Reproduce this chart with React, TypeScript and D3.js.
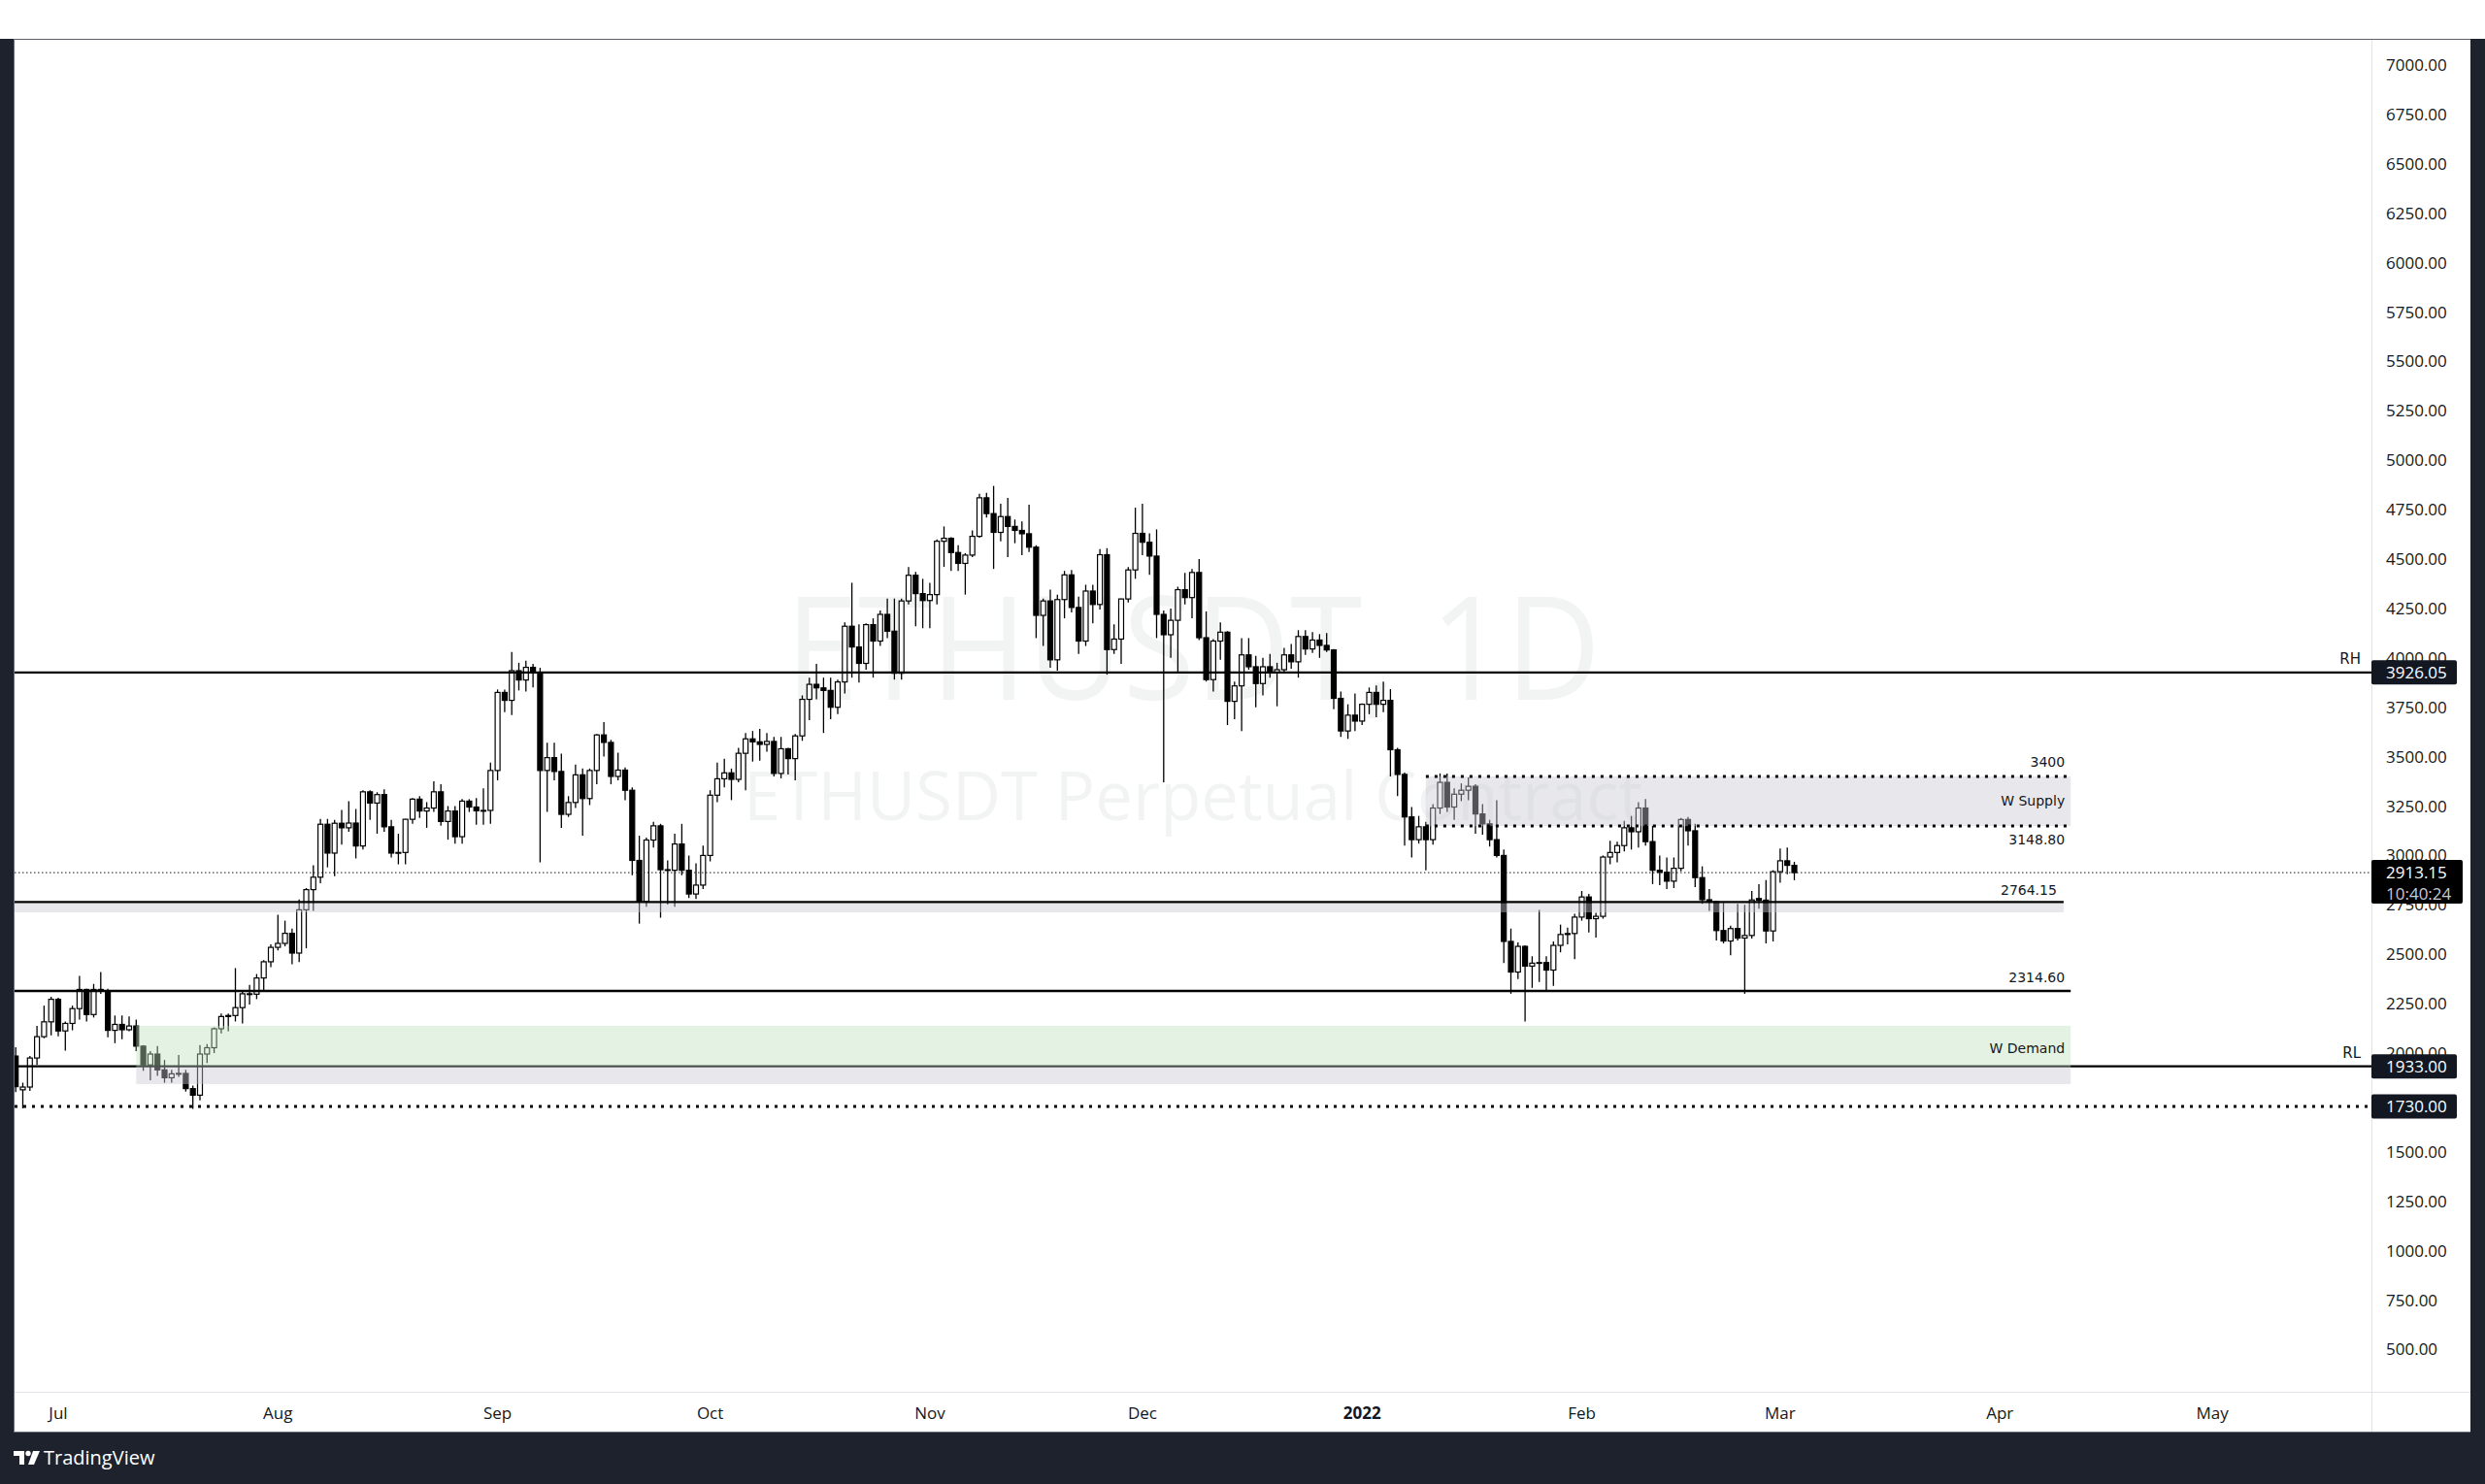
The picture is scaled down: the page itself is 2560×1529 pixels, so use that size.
import React from "react";
import * as d3 from "d3";

// ---------- DATA (daily OHLC, ETHUSDT Perpetual, 1D) ----------
const START = Date.UTC(2021, 5, 25); // first candle: 25 Jun 2021

const jun21 = [
  [1985, 2030, 1802, 1830], [1814, 1850, 1720, 1828], [1828, 1985, 1808, 1975],
  [1975, 2137, 1940, 2083], [2083, 2240, 2075, 2158], [2158, 2285, 2090, 2272],
];
const jul21 = [
  [2272, 2280, 2085, 2112], [2112, 2160, 2012, 2150], [2150, 2240, 2115, 2225], [2225, 2390, 2170, 2322],
  [2322, 2325, 2160, 2195], [2195, 2350, 2180, 2322], [2322, 2410, 2300, 2316], [2316, 2325, 2080, 2115],
  [2115, 2190, 2050, 2145], [2145, 2190, 2070, 2118], [2118, 2186, 2110, 2137], [2137, 2170, 2010, 2035],
  [2035, 2040, 1910, 1940], [1940, 2010, 1862, 1995], [1995, 2035, 1885, 1915], [1915, 1965, 1850, 1875],
  [1875, 1915, 1850, 1895], [1895, 1990, 1880, 1897], [1897, 1915, 1805, 1820], [1820, 1835, 1718, 1787],
  [1787, 2040, 1760, 1995], [1995, 2045, 1950, 2027], [2027, 2130, 2000, 2123], [2123, 2200, 2100, 2185],
  [2185, 2200, 2110, 2190], [2190, 2430, 2160, 2230], [2230, 2315, 2150, 2300], [2300, 2345, 2245, 2298],
  [2298, 2400, 2273, 2380], [2380, 2470, 2310, 2462], [2462, 2550, 2435, 2535],
];
const aug21 = [
  [2535, 2700, 2520, 2555], [2555, 2670, 2540, 2606], [2606, 2630, 2450, 2506], [2506, 2777, 2460, 2725],
  [2725, 2835, 2530, 2827], [2827, 2950, 2720, 2890], [2890, 3185, 2860, 3158], [3158, 3185, 2940, 3012],
  [3012, 3180, 2895, 3163], [3163, 3230, 3055, 3140], [3140, 3275, 3120, 3164], [3164, 3235, 2985, 3048],
  [3048, 3330, 3030, 3322], [3322, 3330, 3180, 3265], [3265, 3320, 3110, 3308], [3308, 3335, 3120, 3145],
  [3145, 3180, 2990, 3012], [3012, 3110, 2955, 3015], [3015, 3185, 2955, 3183], [3183, 3290, 3160, 3285],
  [3285, 3300, 3190, 3225], [3225, 3270, 3140, 3240], [3240, 3375, 3220, 3322], [3322, 3360, 3150, 3172],
  [3172, 3250, 3080, 3225], [3225, 3250, 3060, 3095], [3095, 3285, 3060, 3275], [3275, 3285, 3220, 3245],
  [3245, 3290, 3155, 3226], [3226, 3340, 3155, 3228], [3228, 3470, 3160, 3430],
];
const sep21 = [
  [3430, 3840, 3380, 3825], [3825, 3840, 3725, 3785], [3785, 4030, 3710, 3935], [3935, 3975, 3835, 3888],
  [3888, 3985, 3830, 3952], [3952, 3970, 3850, 3925], [3925, 3950, 2965, 3430], [3430, 3570, 3220, 3495],
  [3495, 3570, 3380, 3425], [3425, 3515, 3140, 3208], [3208, 3300, 3195, 3268], [3268, 3460, 3240, 3408],
  [3408, 3440, 3100, 3288], [3288, 3440, 3255, 3430], [3430, 3615, 3360, 3610], [3610, 3675, 3500, 3572],
  [3572, 3585, 3360, 3400], [3400, 3520, 3380, 3432], [3432, 3445, 3280, 3330], [3330, 3345, 2900, 2975],
  [2975, 3100, 2655, 2767], [2767, 3090, 2740, 3078], [3078, 3170, 3040, 3150], [3150, 3160, 2685, 2928],
  [2928, 2975, 2752, 2925], [2925, 3110, 2740, 3058], [3058, 3160, 2900, 2925], [2925, 3000, 2785, 2805],
  [2805, 2960, 2780, 2850], [2850, 3050, 2830, 3000],
];
const oct21 = [
  [3000, 3330, 2970, 3305], [3305, 3470, 3270, 3388], [3388, 3490, 3345, 3418], [3418, 3440, 3280, 3385],
  [3385, 3545, 3370, 3517], [3517, 3620, 3330, 3590], [3590, 3630, 3475, 3575], [3575, 3640, 3480, 3562],
  [3562, 3620, 3525, 3577], [3577, 3600, 3400, 3415], [3415, 3600, 3390, 3540], [3540, 3545, 3410, 3490],
  [3490, 3615, 3380, 3605], [3605, 3810, 3580, 3790], [3790, 3900, 3685, 3866], [3866, 3970, 3790, 3848],
  [3848, 3900, 3620, 3835], [3835, 3900, 3690, 3750], [3750, 3890, 3715, 3878], [3878, 4180, 3820, 4160],
  [4160, 4380, 3900, 4055], [4055, 4170, 3875, 3972], [3972, 4175, 3940, 4168], [4168, 4200, 3900, 4085],
  [4085, 4240, 4060, 4220], [4220, 4300, 4100, 4135], [4135, 4300, 3890, 3922], [3922, 4300, 3890, 4288],
  [4288, 4460, 4270, 4418], [4418, 4435, 4160, 4325], [4325, 4400, 4150, 4290],
];
const nov21 = [
  [4290, 4380, 4150, 4320], [4320, 4600, 4270, 4590], [4590, 4665, 4460, 4605], [4605, 4610, 4440, 4533],
  [4533, 4570, 4440, 4478], [4478, 4530, 4320, 4520], [4520, 4645, 4510, 4615], [4615, 4830, 4608, 4810],
  [4810, 4835, 4710, 4730], [4730, 4870, 4450, 4635], [4635, 4780, 4590, 4715], [4715, 4810, 4510, 4665],
  [4665, 4700, 4580, 4645], [4645, 4690, 4520, 4628], [4628, 4775, 4535, 4560], [4560, 4570, 4100, 4215],
  [4215, 4300, 4060, 4288], [4288, 4345, 3950, 3990], [3990, 4320, 3935, 4295], [4295, 4440, 4200, 4420],
  [4420, 4445, 4230, 4255], [4255, 4310, 4020, 4085], [4085, 4370, 4060, 4338], [4338, 4370, 4175, 4270],
  [4270, 4550, 4245, 4522], [4522, 4555, 3915, 4042], [4042, 4170, 4020, 4095], [4095, 4300, 3970, 4298],
  [4298, 4460, 4280, 4445], [4445, 4760, 4400, 4630],
];
const dec21 = [
  [4630, 4780, 4520, 4585], [4585, 4630, 4420, 4515], [4515, 4650, 4100, 4220], [4220, 4240, 3370, 4117],
  [4117, 4250, 4000, 4190], [4190, 4360, 3925, 4345], [4345, 4430, 4270, 4305], [4305, 4450, 4200, 4432],
  [4432, 4500, 4090, 4102], [4102, 4235, 3880, 3890], [3890, 4095, 3830, 4085], [4085, 4180, 3990, 4130],
  [4130, 4135, 3660, 3780], [3780, 3880, 3690, 3858], [3858, 4100, 3630, 4015], [4015, 4100, 3940, 3955],
  [3955, 4010, 3750, 3870], [3870, 4000, 3810, 3955], [3955, 4020, 3900, 3925], [3925, 3975, 3755, 3940],
  [3940, 4050, 3920, 4015], [4015, 4070, 3945, 3980], [3980, 4140, 3900, 4108], [4108, 4140, 4015, 4045],
  [4045, 4130, 4025, 4090], [4090, 4120, 4000, 4063], [4063, 4125, 4030, 4040], [4040, 4045, 3740, 3795],
  [3795, 3830, 3600, 3630], [3630, 3765, 3590, 3710], [3710, 3820, 3630, 3680],
];
const jan22 = [
  [3680, 3770, 3660, 3765], [3765, 3850, 3715, 3825], [3825, 3860, 3700, 3765], [3765, 3880, 3725, 3785],
  [3785, 3842, 3400, 3535], [3535, 3545, 3300, 3410], [3410, 3420, 3050, 3195], [3195, 3245, 2990, 3080],
  [3080, 3200, 3060, 3145], [3145, 3170, 2925, 3080], [3080, 3260, 3055, 3240], [3240, 3415, 3210, 3370],
  [3370, 3415, 3220, 3245], [3245, 3340, 3180, 3310], [3310, 3365, 3275, 3330], [3330, 3395, 3280, 3350],
  [3350, 3360, 3110, 3210], [3210, 3260, 3105, 3160], [3160, 3180, 3045, 3080], [3080, 3280, 2990, 3000],
  [3000, 3030, 2455, 2565], [2565, 2630, 2300, 2410], [2410, 2560, 2375, 2540], [2540, 2545, 2160, 2440],
  [2440, 2490, 2330, 2455], [2455, 2725, 2360, 2458], [2458, 2490, 2315, 2420], [2420, 2565, 2340, 2545],
  [2545, 2650, 2510, 2600], [2600, 2635, 2550, 2605], [2605, 2705, 2475, 2688],
];
const feb22 = [
  [2688, 2820, 2670, 2790], [2790, 2805, 2610, 2680], [2680, 2710, 2585, 2692], [2692, 3000, 2680, 2992],
  [2992, 3075, 2955, 3015], [3015, 3070, 2965, 3050], [3050, 3175, 3020, 3140], [3140, 3200, 3030, 3120],
  [3120, 3270, 3040, 3240], [3240, 3285, 3050, 3070], [3070, 3150, 2855, 2925], [2925, 3000, 2850, 2915],
  [2915, 2990, 2830, 2870], [2870, 2990, 2835, 2935], [2935, 3190, 2920, 3182], [3182, 3195, 3050, 3125],
  [3125, 3160, 2840, 2888], [2888, 2945, 2755, 2776], [2776, 2830, 2720, 2766], [2766, 2770, 2570, 2620],
  [2620, 2760, 2555, 2567], [2567, 2645, 2495, 2630], [2630, 2755, 2570, 2582], [2582, 2750, 2300, 2595],
  [2595, 2820, 2580, 2775], [2782, 2855, 2730, 2774], [2774, 2875, 2555, 2618], [2618, 2925, 2565, 2918],
];
const mar22 = [
  [2918, 3035, 2862, 2973], [2973, 3040, 2905, 2950], [2950, 2968, 2875, 2913.15],
];

const priceTicks = d3.range(500, 7001, 250);
const monthTicks = d3.utcMonth.range(new Date(Date.UTC(2021, 6, 1)), new Date(Date.UTC(2022, 4, 2)));

const lastPrice = 2913.15;
const countdown = "10:40:24";
const rangeHigh = 3926.05;
const rangeLow = 1933.0;
const sweepLow = 1730.0;
const level2764 = 2764.15;
const band2764 = [2712, 2764.15];
const level2314 = 2314.6;
const supplyZone = [3148.8, 3400];
const demandZone = [1933, 2138];
const demandLowBand = [1843, 1933];
const supplyStart = new Date(Date.UTC(2022, 0, 10));
const demandStart = new Date(Date.UTC(2021, 6, 12));
const zoneEnd = new Date(Date.UTC(2022, 3, 11));
const line2764End = new Date(Date.UTC(2022, 3, 10));

const candles = [...jun21, ...jul21, ...aug21, ...sep21, ...oct21, ...nov21, ...dec21, ...jan22, ...feb22, ...mar22].map(
  (d, i) => ({ date: d3.utcDay.offset(new Date(START), i), o: d[0], h: d[1], l: d[2], c: d[3] })
);

const AX = "'Open Sans', 'Noto Sans', sans-serif";
const DR = "'DejaVu Sans', Verdana, sans-serif";
const FRAME = "#1e222d";
const INK = "#131722";

export default function App() {
  const W = 2560, H = 1529;
  const L = 15, R = 2443, T = 40, AXY = 1434, B = 1476, FR = 2545;

  const x = d3.scaleUtc()
    .domain([new Date(Date.UTC(2021, 6, 1)), new Date(Date.UTC(2022, 4, 1))])
    .range([60, 60 + 304 * 7.3]);
  const y = d3.scaleLinear().domain([500, 7000]).range([1390.4, 67]);
  const fmt = d3.format(".2f");
  const bw = 5;

  const zEnd = x(zoneEnd);

  return (
    <svg width={W} height={H} style={{ position: "fixed", left: 0, top: 0, display: "block" }}>
      <defs>
        <clipPath id="plot">
          <rect x={L} y={T} width={R - L} height={AXY - T} />
        </clipPath>
      </defs>
      <rect x={0} y={0} width={W} height={H} fill="#ffffff" />

      <g clipPath="url(#plot)">
        {/* watermark */}
        <text x={(L + R) / 2} y={721} textAnchor="middle" fontFamily={AX} fontSize={148}
          textLength={840} lengthAdjust="spacingAndGlyphs" fill="rgba(42,46,57,0.06)">ETHUSDT, 1D</text>
        <text x={(L + R) / 2} y={845} textAnchor="middle" fontFamily={AX} fontSize={69}
          textLength={926} lengthAdjust="spacingAndGlyphs" fill="rgba(42,46,57,0.06)">ETHUSDT Perpetual Contract</text>

        {/* candles */}
        {candles.map((d, i) => {
          const cx = x(d.date);
          const up = d.c >= d.o;
          const yt = y(Math.max(d.o, d.c));
          const yb = y(Math.min(d.o, d.c));
          return (
            <g key={i}>
              <line x1={cx} x2={cx} y1={y(d.h)} y2={y(d.l)} stroke="#000" strokeWidth={1.3} />
              <rect x={cx - bw / 2} y={yt} width={bw} height={Math.max(yb - yt, 0.8)}
                fill={up ? "#ffffff" : "#000000"} stroke="#000" strokeWidth={1.2} />
            </g>
          );
        })}

        {/* range low line (under demand zone) */}
        <line x1={L} x2={R} y1={y(rangeLow)} y2={y(rangeLow)} stroke="#000" strokeWidth={2.4} />

        {/* zones */}
        <rect x={x(demandStart)} y={y(demandZone[1])} width={zEnd - x(demandStart)}
          height={y(demandZone[0]) - y(demandZone[1])} fill="rgba(188,224,188,0.42)" />
        <rect x={x(demandStart)} y={y(demandLowBand[1])} width={zEnd - x(demandStart)}
          height={y(demandLowBand[0]) - y(demandLowBand[1])} fill="rgba(200,201,210,0.42)" />
        <rect x={x(supplyStart)} y={y(supplyZone[1])} width={zEnd - x(supplyStart)}
          height={y(supplyZone[0]) - y(supplyZone[1])} fill="rgba(200,201,210,0.42)" />
        <rect x={L} y={y(band2764[1]) + 1} width={x(line2764End) - L}
          height={y(band2764[0]) - y(band2764[1]) - 1} fill="rgba(200,201,210,0.42)" />

        {/* horizontal levels */}
        <line x1={L} x2={R} y1={y(rangeHigh)} y2={y(rangeHigh)} stroke="#000" strokeWidth={2.4} />
        <line x1={L} x2={x(line2764End)} y1={y(level2764)} y2={y(level2764)} stroke="#000" strokeWidth={2.4} />
        <line x1={L} x2={zEnd} y1={y(level2314)} y2={y(level2314)} stroke="#000" strokeWidth={2.4} />
        <line x1={L} x2={R} y1={y(sweepLow)} y2={y(sweepLow)} stroke="#000" strokeWidth={3} strokeDasharray="3 6" />
        <line x1={x(supplyStart)} x2={zEnd} y1={y(supplyZone[1])} y2={y(supplyZone[1])} stroke="#000" strokeWidth={3} strokeDasharray="3 6" />
        <line x1={x(supplyStart)} x2={zEnd} y1={y(supplyZone[0])} y2={y(supplyZone[0])} stroke="#000" strokeWidth={3} strokeDasharray="3 6" />
        <line x1={L} x2={R} y1={y(lastPrice)} y2={y(lastPrice)} stroke={INK} strokeWidth={1} strokeDasharray="1.5 2.5" />

        {/* drawing labels */}
        <g fontFamily={DR} fontSize={14} fill={INK} textAnchor="end">
          <text x={zEnd - 6} y={y(supplyZone[1]) - 10}>3400</text>
          <text x={zEnd - 6} y={(y(supplyZone[0]) + y(supplyZone[1])) / 2 + 4}>W Supply</text>
          <text x={zEnd - 6} y={y(supplyZone[0]) + 19}>3148.80</text>
          <text x={x(line2764End) - 7} y={y(level2764) - 7}>2764.15</text>
          <text x={zEnd - 6} y={y(level2314) - 9}>2314.60</text>
          <text x={zEnd - 6} y={(y(demandZone[0]) + y(demandZone[1])) / 2 + 7}>W Demand</text>
        </g>
        <g fontFamily={DR} fontSize={15} fill={INK} textAnchor="end">
          <text x={R - 11} y={y(rangeHigh) - 9}>RH</text>
          <text x={R - 11} y={y(rangeLow) - 9}>RL</text>
        </g>
      </g>

      {/* axes separators */}
      <line x1={R + 0.5} x2={R + 0.5} y1={T} y2={B} stroke="#e0e3eb" strokeWidth={1} />
      <line x1={L} x2={FR} y1={AXY + 0.5} y2={AXY + 0.5} stroke="#e0e3eb" strokeWidth={1} />

      {/* price axis */}
      <g fontFamily={AX} fontSize={17} fill={INK}>
        {priceTicks.map((p) => (
          <text key={p} x={2458} y={y(p) + 6}>{fmt(p)}</text>
        ))}
      </g>

      {/* price tags */}
      <g fontFamily={AX} fontSize={17}>
        <rect x={R} y={y(rangeHigh) - 12.5} width={88} height={25} rx={2} fill={INK} />
        <text x={2458} y={y(rangeHigh) + 6} fill="#fff">{fmt(rangeHigh)}</text>
        <rect x={R} y={y(rangeLow) - 12.5} width={88} height={25} rx={2} fill={INK} />
        <text x={2458} y={y(rangeLow) + 6} fill="#fff">{fmt(rangeLow)}</text>
        <rect x={R} y={y(sweepLow) - 12.5} width={88} height={25} rx={2} fill={INK} />
        <text x={2458} y={y(sweepLow) + 6} fill="#fff">{fmt(sweepLow)}</text>
        <rect x={R} y={y(lastPrice) - 13} width={94} height={45} rx={2} fill="#000" />
        <text x={2458} y={y(lastPrice) + 6} fill="#fff">{fmt(lastPrice)}</text>
        <text x={2458} y={y(lastPrice) + 28} fill="#c9cbd1">{countdown}</text>
      </g>

      {/* time axis */}
      <g fontFamily={AX} fontSize={17} fill={INK} textAnchor="middle">
        {monthTicks.map((m) => {
          const isYear = m.getUTCMonth() === 0;
          return (
            <text key={m.toISOString()} x={x(m)} y={1462} fontWeight={isYear ? 700 : 400}>
              {isYear ? d3.utcFormat("%Y")(m) : d3.utcFormat("%b")(m)}
            </text>
          );
        })}
      </g>

      {/* frame */}
      <line x1={L} x2={W} y1={T + 0.5} y2={T + 0.5} stroke="#5d606b" strokeWidth={1} />
      <rect x={0} y={T} width={L} height={H - T} fill={FRAME} />
      <line x1={L - 0.5} x2={L - 0.5} y1={T} y2={B} stroke="#6a6e7a" strokeWidth={1} />
      <rect x={FR} y={T} width={W - FR} height={H - T} fill={FRAME} />
      <rect x={0} y={B} width={W} height={H - B} fill={FRAME} />
      <line x1={L} x2={FR} y1={B - 0.5} y2={B - 0.5} stroke="#6a6e7a" strokeWidth={1} />

      {/* TradingView logo */}
      <g fill="#ffffff">
        <path d="M14 1495 h11 v14 h-5 v-9 h-6 z" />
        <circle cx={29} cy={1497.5} r={2.7} />
        <path d="M34 1495 h7 l-6 14 h-6 z" />
        <text x={45} y={1509} fontFamily={AX} fontSize={20}>TradingView</text>
      </g>
    </svg>
  );
}
